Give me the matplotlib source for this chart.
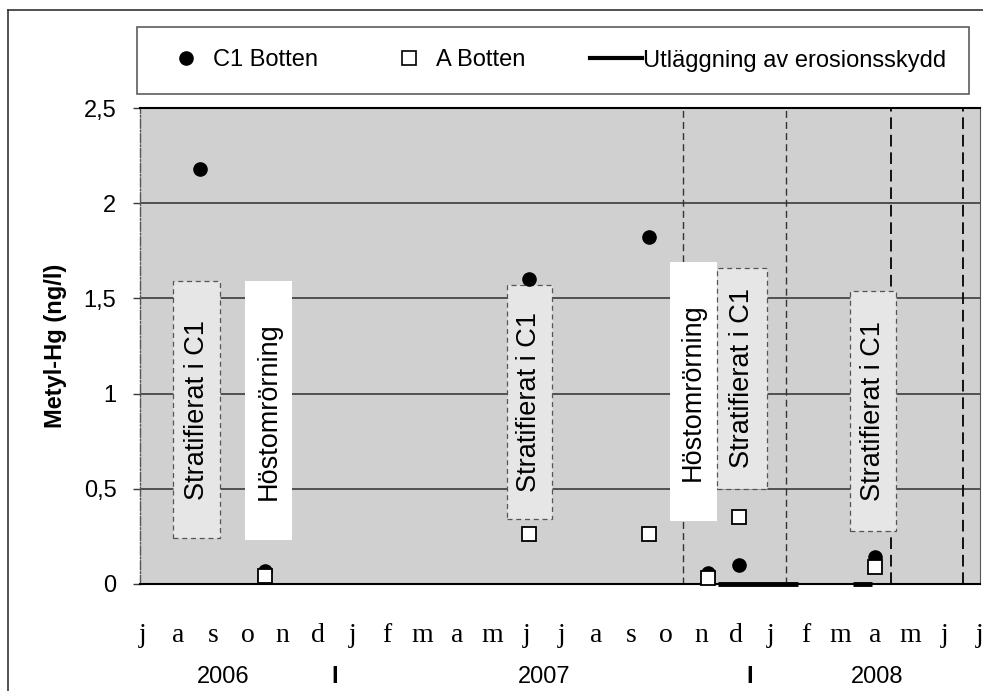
import numpy as np
import matplotlib
matplotlib.use("Agg")
import matplotlib.pyplot as plt
from matplotlib.patches import Rectangle
from matplotlib.lines import Line2D

plt.rcParams['font.family'] = ['Liberation Sans', 'DejaVu Sans']

# === Données (mois depuis juillet 2006) ===
month_labels = ['j', 'a', 's', 'o', 'n', 'd', 'j', 'f', 'm', 'a', 'm', 'j',
                'j', 'a', 's', 'o', 'n', 'd', 'j', 'f', 'm', 'a', 'm', 'j', 'j']

c1_months = [1.63, 3.5, 11.06, 14.5, 16.2, 17.1, 21.0]
c1_values = [2.18, 0.07, 1.60, 1.82, 0.06, 0.10, 0.14]

a_months = [3.5, 11.06, 14.5, 16.2, 17.1, 21.0]
a_values = [0.04, 0.26, 0.26, 0.03, 0.35, 0.09]

erosion_periods = [(16.48, 18.77), (20.37, 20.89)]

year_labels = ['2006', 'I', '2007', 'I', '2008']
year_pos    = [2.29, 5.5, 11.5, 17.4, 21.06]

period_lines = [15.47, 18.45, 21.46, 23.5]

# boîtes de texte : (x0, x1, y0, y1, texte, type)
boxes = [
    (0.86, 2.21, 0.24, 1.59, 'Stratifierat i C1', 'strat'),
    (2.92, 4.27, 0.23, 1.59, 'Höstomrörning', 'host'),
    (10.43, 11.72, 0.34, 1.57, 'Stratifierat i C1', 'strat'),
    (15.10, 16.45, 0.33, 1.69, 'Höstomrörning', 'host'),
    (16.45, 17.88, 0.50, 1.66, 'Stratifierat i C1', 'strat'),
    (20.26, 21.60, 0.28, 1.54, 'Stratifierat i C1', 'strat'),
]

# === Figure ===
fig = plt.figure(figsize=(9.83, 6.91), dpi=100)
ax = fig.add_axes([140 / 983, 1 - 584 / 691, 840 / 983, 476 / 691])
ax.set_facecolor('#d0d0d0')

ax.set_xlim(-0.09, 24.0)
ax.set_ylim(0, 2.5)

ax.set_yticks([0, 0.5, 1, 1.5, 2, 2.5])
ax.set_yticklabels(['0', '0,5', '1', '1,5', '2', '2,5'], fontsize=17)
ax.yaxis.grid(True, color='#3a3a3a', lw=1.2, zorder=1)
ax.set_axisbelow(True)
ax.tick_params(axis='y', length=5, width=1, color='#3a3a3a', pad=12)

ax.set_xticks(np.arange(len(month_labels)))
ax.set_xticklabels(month_labels, fontsize=20, family='Liberation Serif')
ax.tick_params(axis='x', length=0, pad=28)

ax.set_ylabel('Metyl-Hg (ng/l)', fontsize=17, fontweight='bold', labelpad=12)

for s in ['top', 'bottom']:
    ax.spines[s].set_color('black')
    ax.spines[s].set_linewidth(1.5)
ax.spines['right'].set_color('#555555')
ax.spines['left'].set_linestyle('-.')
ax.spines['left'].set_color('#555555')
ax.spines['left'].set_linewidth(1)

# lignes verticales de périodes
for i, xv in enumerate(period_lines):
    ax.axvline(xv, color='#333333' if i < 2 else '#111111',
               ls=(0, (5, 3)) if i < 2 else (0, (6, 3)),
               lw=1.0 if i < 2 else 1.4, zorder=2)

# boîtes
for x0, x1, y0, y1, txt, kind in boxes:
    if kind == 'strat':
        rect = Rectangle((x0, y0), x1 - x0, y1 - y0, facecolor='#e6e6e6',
                         edgecolor='#555555', lw=0.9, ls=(0, (4, 3)), zorder=3)
    else:
        rect = Rectangle((x0, y0), x1 - x0, y1 - y0, facecolor='white',
                         edgecolor='none', zorder=3)
    ax.add_patch(rect)
    ax.text((x0 + x1) / 2, (y0 + y1) / 2, txt, rotation=90, ha='center',
            va='center', fontsize=19.5, zorder=4)

# erosionsskydd
for i, (e0, e1) in enumerate(erosion_periods):
    ax.plot([e0, e1], [0, 0], color='black', lw=3.5, solid_capstyle='butt',
            zorder=5, clip_on=False)

ax.plot(c1_months, c1_values, 'o', color='black', markersize=9.5,
        zorder=6, clip_on=False)
ax.plot(a_months, a_values, 's', markerfacecolor='white',
        markeredgecolor='black', markeredgewidth=1.3, markersize=10,
        zorder=7, clip_on=False)

# années
for lab, xp in zip(year_labels, year_pos):
    ax.text(xp, -0.195, lab, transform=ax.get_xaxis_transform(),
            ha='center', va='center', fontsize=17,
            fontweight='bold' if lab == 'I' else 'normal')

# légende
handles = [
    Line2D([], [], marker='o', ls='none', color='black', markersize=9.5),
    Line2D([], [], marker='s', ls='none', markerfacecolor='white',
           markeredgecolor='black', markeredgewidth=1.2, markersize=10),
    Line2D([], [], color='black', lw=3),
]
leg = fig.legend(handles, ['C1 Botten', 'A Botten', 'Utläggning av erosionsskydd'],
                 loc='center', bbox_to_anchor=(553 / 983, 1 - 60.5 / 691),
                 ncol=3, fontsize=17, frameon=True, fancybox=False,
                 edgecolor='#333333', handlelength=2.2, handletextpad=0.05,
                 columnspacing=2.75, borderpad=0.95)
leg.get_frame().set_linewidth(1.2)

# cadre extérieur
fig.add_artist(Line2D([8 / 983, 8 / 983], [0, 1 - 10 / 691],
                      transform=fig.transFigure, color='#333333', lw=1.2))
fig.add_artist(Line2D([8 / 983, 1], [1 - 10 / 691, 1 - 10 / 691],
                      transform=fig.transFigure, color='#333333', lw=1.2))

fig.savefig('out.png', dpi=100)
